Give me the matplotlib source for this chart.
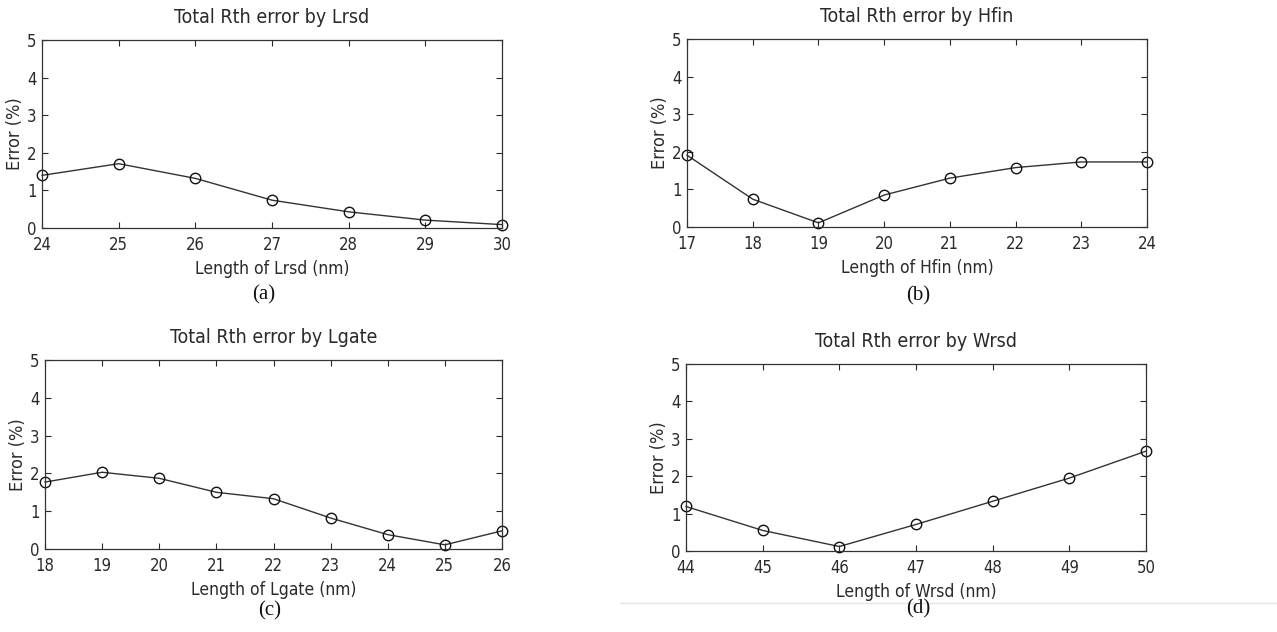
import matplotlib.pyplot as plt
from matplotlib import font_manager
from matplotlib.lines import Line2D

# a narrow sans looks closest to the MATLAB export; use one if it is there
narrow = None
for fam, stretch in [('Liberation Sans Narrow', 'normal'), ('DejaVu Sans', 'condensed')]:
    try:
        path = font_manager.findfont(font_manager.FontProperties(family=fam, stretch=stretch),
                                     fallback_to_default=False)
        if 'Narrow' in path or 'Condensed' in path:
            narrow = (fam, stretch)
            break
    except Exception:
        pass

if narrow:
    plt.rcParams['font.family'] = [narrow[0], 'DejaVu Sans']
    plt.rcParams['font.stretch'] = narrow[1]
    sz_tick, sz_xlab, sz_ylab, sz_title = 12, 12.5, 13, 14
else:
    plt.rcParams['font.family'] = ['Liberation Sans', 'DejaVu Sans']
    sz_tick, sz_xlab, sz_ylab, sz_title = 11, 11, 12, 13

# data
lrsd = [24, 25, 26, 27, 28, 29, 30]
lrsd_err = [1.40, 1.71, 1.32, 0.74, 0.43, 0.21, 0.09]

hfin = [17, 18, 19, 20, 21, 22, 23, 24]
hfin_err = [1.91, 0.74, 0.11, 0.85, 1.30, 1.58, 1.73, 1.73]

lgate = [18, 19, 20, 21, 22, 23, 24, 25, 26]
lgate_err = [1.77, 2.03, 1.87, 1.50, 1.33, 0.82, 0.38, 0.11, 0.48]

wrsd = [44, 45, 46, 47, 48, 49, 50]
wrsd_err = [1.19, 0.55, 0.12, 0.71, 1.33, 1.95, 2.67]

W, H = 1277, 632
# axes boxes in pixels: left, top, right, bottom ; caption centre x, y
panels = [
    (lrsd, lrsd_err, 'Lrsd', '(a)', (42, 40, 502, 228), (264, 295)),
    (hfin, hfin_err, 'Hfin', '(b)', (687, 39, 1147, 227), (918, 296)),
    (lgate, lgate_err, 'Lgate', '(c)', (45, 360, 502, 549), (270, 611)),
    (wrsd, wrsd_err, 'Wrsd', '(d)', (686, 364, 1146, 551), (918, 609)),
]

fig = plt.figure(figsize=(W / 100, H / 100), dpi=100)
ink = '#2a2a2a'

for x, y, name, tag, box, cap in panels:
    l, t, r, b = box
    ax = fig.add_axes([l / W, 1 - b / H, (r - l) / W, (b - t) / H])
    ax.plot(x, y, '-o', color='#333333', lw=1.0, ms=7.5, mfc='none', mec='#111111', mew=1.0,
            clip_on=False)
    ax.set_xlim(x[0], x[-1])
    ax.set_ylim(0, 5)
    ax.set_xticks(x)
    ax.set_yticks(range(6))
    ax.tick_params(direction='in', top=True, right=True, length=4, width=0.8,
                   labelsize=sz_tick, colors=ink)
    ax.tick_params(axis='x', pad=6)
    ax.tick_params(axis='y', pad=4)
    for s in ax.spines.values():
        s.set_linewidth(0.9)
        s.set_color('#333333')
    ax.set_title('Total Rth error by ' + name, fontsize=sz_title, pad=12, color=ink)
    ax.set_xlabel('Length of ' + name + ' (nm)', fontsize=sz_xlab, labelpad=4, color=ink)
    ax.set_ylabel('Error (%)', fontsize=sz_ylab, labelpad=2, color=ink)
    fig.text(cap[0] / W, 1 - cap[1] / H, tag, family='Liberation Serif', fontsize=15,
             ha='center', va='center', color='#111111')

fig.add_artist(Line2D([620 / W, 1.0], [1 - 603 / H] * 2, color='#e4e4e4', lw=1.0))

fig.savefig('out.png', dpi=100)
